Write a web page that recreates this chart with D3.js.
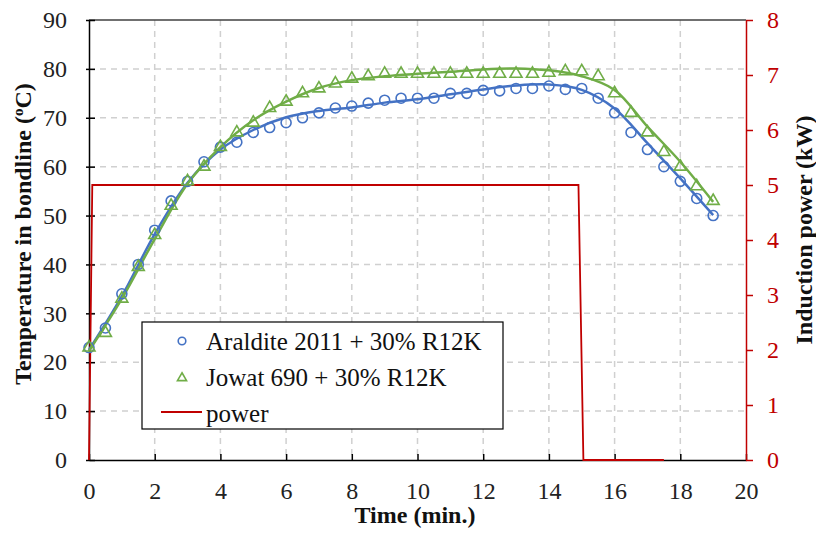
<!DOCTYPE html>
<html>
<head>
<meta charset="utf-8">
<script src="https://cdn.jsdelivr.net/npm/d3@7"></script>
<style>
  body { margin: 0; background: #fff; }
  svg { display: block; font-family: "Liberation Serif", "Times New Roman", serif; }
</style>
</head>
<body>
<svg id="chart" width="816" height="538"></svg>
<script>
// measured points, every 0.5 min
var time = [0,0.5,1,1.5,2,2.5,3,3.5,4,4.5,5,5.5,6,6.5,7,7.5,8,8.5,9,9.5,10,10.5,11,11.5,12,12.5,13,13.5,14,14.5,15,15.5,16,16.5,17,17.5,18,18.5,19];
var araldite = [23,27,34,40,47,53,57,61,64,65,67,68,69,70,71,72,72.4,73,73.6,74,74,74,75,75,75.6,75.5,76,76,76.5,75.8,76,74,71,67,63.5,60,57,53.5,50];
var jowat = [23,26,33,39.5,46,52,57,60,64,67,69,72,73.3,75,76,77,78,78.5,79,79,79,79,79,79,79,79,79,79,79.2,79.5,79.5,78.5,75,71,67,63,60,56,53];

// trend lines (one per minute)
var trendTime = [0,1,2,3,4,5,6,7,8,9,10,11,12,13,14,15,16,17,18,19];
var aralditeTrend = [22.5,33.5,46.2,56.7,63.5,67.5,70.1,71.4,72.1,73.1,73.8,74.8,75.8,76.6,76.8,75.7,71.9,64.8,57.6,50.1];
var jowatTrend = [22.3,33,45.2,56.5,64,69.5,73.3,76.1,77.7,78.5,79,79.4,79.9,80.1,79.7,78.5,75.7,68.2,61,52.8];

// induction power (kW)
var powerTime = [0,0.1,14.9,15.05,17.5];
var powerKW = [0,5,5,0,0];

var xTicks = [0,2,4,6,8,10,12,14,16,18,20];
var yTicks = [0,10,20,30,40,50,60,70,80,90];
var y2Ticks = [0,1,2,3,4,5,6,7,8];

var blue = "#4472C4", green = "#70AD47", red = "#C00000";
var serif = "'Liberation Serif', 'Times New Roman', serif";

var svg = d3.select("#chart");
var m = { left: 89, right: 746, top: 20, bottom: 460 };

var x = d3.scaleLinear().domain([0, 20]).range([m.left, m.right]);
var y = d3.scaleLinear().domain([0, 90]).range([m.bottom, m.top]);
var y2 = d3.scaleLinear().domain([0, 8]).range([m.bottom, m.top]);

// grid
var grid = svg.append("g").attr("class", "grid")
  .attr("stroke", "#d0d0d0").attr("stroke-width", 1.5).attr("stroke-dasharray", "6,5");
grid.selectAll("line.h").data(yTicks.slice(1, -1)).enter().append("line")
  .attr("x1", m.left).attr("x2", m.right)
  .attr("y1", function(d) { return y(d); }).attr("y2", function(d) { return y(d); });
grid.selectAll("line.v").data(xTicks.slice(1, -1)).enter().append("line")
  .attr("y1", m.top).attr("y2", m.bottom)
  .attr("x1", function(d) { return x(d); }).attr("x2", function(d) { return x(d); });

// top frame
svg.append("line").attr("x1", m.left).attr("x2", m.right).attr("y1", m.top).attr("y2", m.top)
  .attr("stroke", "#404040").attr("stroke-width", 1.5);

// axes
var xAxis = svg.append("g").attr("transform", "translate(0," + m.bottom + ")")
  .call(d3.axisBottom(x).tickValues(xTicks).tickSizeInner(-6).tickSizeOuter(0).tickPadding(22));
var yAxis = svg.append("g").attr("transform", "translate(" + m.left + ",0)")
  .call(d3.axisLeft(y).tickValues(yTicks).tickSizeInner(6).tickSizeOuter(0).tickPadding(16));
var y2Axis = svg.append("g").attr("transform", "translate(" + m.right + ",0)")
  .call(d3.axisRight(y2).tickValues(y2Ticks).tickSizeInner(7).tickSizeOuter(0).tickPadding(14));

[xAxis, yAxis, y2Axis].forEach(function(a) {
  a.attr("font-family", serif).attr("font-size", 24);
  a.selectAll("text").attr("font-family", serif).style("font-family", serif).style("font-size", "24px");
});
[xAxis, yAxis].forEach(function(a) {
  a.select(".domain").attr("stroke", "#000").attr("stroke-width", 1.5);
  a.selectAll(".tick line").attr("stroke", "#000").attr("stroke-width", 1.5);
  a.selectAll("text").attr("fill", "#222");
});
yAxis.selectAll(".tick line").attr("x1", 6).attr("x2", -3);
y2Axis.select(".domain").attr("stroke", red).attr("stroke-width", 1.5);
y2Axis.selectAll(".tick line").attr("stroke", red).attr("stroke-width", 1.5);
y2Axis.selectAll("text").attr("fill", red);

// power line
svg.append("path")
  .datum(d3.zip(powerTime, powerKW))
  .attr("fill", "none").attr("stroke", red).attr("stroke-width", 1.8)
  .attr("d", d3.line().x(function(d) { return x(d[0]); }).y(function(d) { return y2(d[1]); }));

// trend lines
var trend = d3.line().curve(d3.curveCatmullRom)
  .x(function(d) { return x(d[0]); }).y(function(d) { return y(d[1]); });
svg.append("path").datum(d3.zip(trendTime, aralditeTrend))
  .attr("fill", "none").attr("stroke", blue).attr("stroke-width", 2.5).attr("d", trend);
svg.append("path").datum(d3.zip(trendTime, jowatTrend))
  .attr("fill", "none").attr("stroke", green).attr("stroke-width", 2.5).attr("d", trend);

// markers
svg.append("g").selectAll("circle").data(d3.zip(time, araldite)).enter().append("circle")
  .attr("cx", function(d) { return x(d[0]); }).attr("cy", function(d) { return y(d[1]); })
  .attr("r", 5).attr("fill", "none").attr("stroke", blue).attr("stroke-width", 1.6);
var tri = d3.symbol().type(d3.symbolTriangle).size(62);
svg.append("g").selectAll("path").data(d3.zip(time, jowat)).enter().append("path")
  .attr("d", tri)
  .attr("transform", function(d) { return "translate(" + x(d[0]) + "," + y(d[1]) + ")"; })
  .attr("fill", "none").attr("stroke", green).attr("stroke-width", 1.6);

// axis titles
svg.append("text").attr("x", 415).attr("y", 523).attr("text-anchor", "middle")
  .style("font-size", "24px").style("font-weight", "bold").attr("fill", "#111").text("Time (min.)");
svg.append("text").attr("transform", "translate(31,234) rotate(-90)").attr("text-anchor", "middle")
  .style("font-size", "24px").style("font-weight", "bold").attr("fill", "#111")
  .html("Temperature in bondline (<tspan baseline-shift='super' font-size='15px'>o</tspan>C)");
svg.append("text").attr("transform", "translate(812,230) rotate(-90)").attr("text-anchor", "middle")
  .style("font-size", "24px").style("font-weight", "bold").attr("fill", "#111").text("Induction power (kW)");

// legend
var lg = svg.append("g").attr("transform", "translate(142,322)");
lg.append("rect").attr("width", 361).attr("height", 107).attr("fill", "#fff")
  .attr("stroke", "#000").attr("stroke-width", 1.2);
var items = ["Araldite 2011 + 30% R12K", "Jowat 690 + 30% R12K", "power"];
lg.selectAll("text").data(items).enter().append("text")
  .attr("x", 64).attr("y", function(d, i) { return 19 + i * 36; })
  .attr("dy", "0.35em").style("font-size", "25px").attr("fill", "#111").text(function(d) { return d; });
lg.append("circle").attr("cx", 40).attr("cy", 19).attr("r", 3.8)
  .attr("fill", "none").attr("stroke", blue).attr("stroke-width", 1.6);
lg.append("path").attr("d", d3.symbol().type(d3.symbolTriangle).size(36)).attr("transform", "translate(40,56)")
  .attr("fill", "none").attr("stroke", green).attr("stroke-width", 1.6);
lg.append("line").attr("x1", 19).attr("x2", 60).attr("y1", 90).attr("y2", 90)
  .attr("stroke", red).attr("stroke-width", 1.8);
</script>
</body>
</html>
